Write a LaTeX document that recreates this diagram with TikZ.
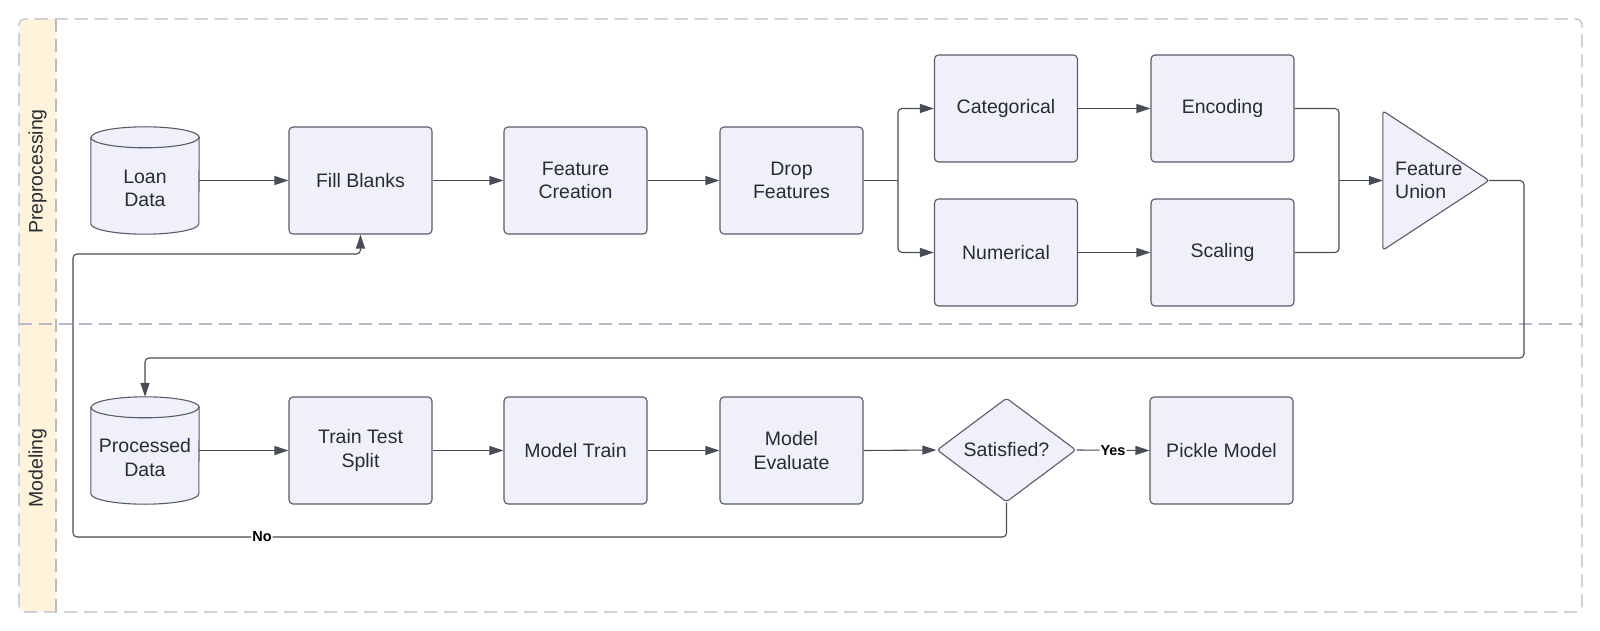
\documentclass[tikz,border=0pt]{standalone}
\usepackage{fontspec}
\setmainfont{Liberation Sans}
\usetikzlibrary{arrows.meta,shapes.geometric,calc}
\definecolor{boxfill}{RGB}{240,240,253}
\definecolor{boxline}{RGB}{88,92,104}
\definecolor{txt}{RGB}{40,44,52}
\definecolor{lanefill}{RGB}{255,243,219}
\definecolor{dashc}{RGB}{182,186,198}
\definecolor{connc}{RGB}{72,76,86}
\tikzset{
  proc/.style={draw=boxline, fill=boxfill, line width=1.1pt, rounded corners=4pt,
    minimum width=143pt, minimum height=107pt, align=center, inner sep=0pt},
  shapebox/.style={draw=none, inner sep=0pt, minimum width=108pt, minimum height=107pt},
  shapeline/.style={draw=boxline, fill=boxfill, line width=1.1pt},
  txtnode/.style={align=center, inner sep=0pt},
  conn/.style={draw=connc, line width=1.1pt, rounded corners=4pt},
  arr/.style={conn, -{Triangle[length=14pt,width=9pt]}},
  lbl/.style={fill=white, inner sep=1pt, font=\fontsize{14.5}{16}\selectfont\bfseries, text=black},
  lanedash/.style={draw=dashc, line width=1.1pt, dash pattern=on 13pt off 7pt},
  lanelbl/.style={rotate=90, inner sep=0pt}
}
\newcommand{\mycyl}[1]{%
  \draw[shapeline] ($(#1.north west)+(0,-10.5)$) -- ($(#1.south west)+(0,10.5)$)
    arc[start angle=180,end angle=360,x radius=54,y radius=10.5]
    -- ($(#1.north east)+(0,-10.5)$)
    arc[start angle=0,end angle=180,x radius=54,y radius=10.5] -- cycle;
  \draw[draw=boxline, line width=1.1pt] ($(#1.north west)+(0,-10.5)$)
    arc[start angle=180,end angle=360,x radius=54,y radius=10.5];}
\begin{document}
\begin{tikzpicture}[x=1pt,y=1pt, font=\fontsize{19.5}{23.5}\selectfont, text=txt]
\useasboundingbox (0,0) rectangle (1600,630);
% swimlanes
\begin{scope}
  \clip[rounded corners=6pt] (19,18) rectangle (1582,611);
  \fill[lanefill] (19,18) rectangle (56,611);
\end{scope}
\draw[lanedash, rounded corners=6pt] (19,18) rectangle (1582,611);
\draw[lanedash] (56,18) -- (56,611);
\draw[lanedash] (19,306) -- (1582,306);
\node[lanelbl] (lane1) at (37.5,458.5) {Preprocessing};
\node[lanelbl] (lane2) at (37.5,162) {Modeling};

% row 1
\node[shapebox] (ld) at (145,449.5) {};
\mycyl{ld}
\node[txtnode] (ldt) at (145,441.5) {Loan\\Data};
\node[proc] (fb) at (360.5,449.5) {Fill Blanks};
\node[proc] (fc) at (575.5,449.5) {Feature\\Creation};
\node[proc] (df) at (791.5,449.5) {Drop\\Features};
\node[proc] (cat) at (1006,521.5) {Categorical};
\node[proc] (num) at (1006,377.5) {Numerical};
\node[proc] (enc) at (1222.5,521.5) {Encoding};
\node[proc] (sca) at (1222.5,377.5) {Scaling};
\node[draw=none, inner sep=0pt, minimum width=106pt, minimum height=139pt] (fu) at (1436,449.5) {};
\draw[shapeline, rounded corners=3pt] (fu.north west) -- (fu.east) -- (fu.south west) -- cycle;
\node[txtnode, anchor=west, align=left] (fut) at (1395,449.5) {Feature\\Union};

% row 2
\node[shapebox] (pd) at (145,179.5) {};
\mycyl{pd}
\node[txtnode] (pdt) at (145,172.5) {Processed\\Data};
\node[proc] (tts) at (360.5,179.5) {Train Test\\Split};
\node[proc] (mt) at (575.5,179.5) {Model Train};
\node[proc] (me) at (791.5,179.5) {Model\\Evaluate};
\node[diamond, draw=boxline, fill=boxfill, line width=1.1pt, rounded corners=3pt,
  minimum width=139pt, minimum height=104pt, inner sep=0pt, aspect=1.34] (sat) at (1006.5,180) {Satisfied?};
\node[proc] (pm) at (1221.5,179.5) {Pickle Model};

% connectors
\coordinate (split) at (898,449.5);
\coordinate (merge) at (1339,449.5);
\coordinate (back) at (1524,272);
\coordinate (loopL) at (73,93);
\coordinate (loopT) at (73,376);

\draw[arr] (ld.east) -- (fb.west);
\draw[arr] (fb) -- (fc);
\draw[arr] (fc) -- (df);
\draw[conn] (df.east) -- (split);
\draw[arr] (split) |- (cat.west);
\draw[arr] (split) |- (num.west);
\draw[arr] (cat) -- (enc);
\draw[arr] (num) -- (sca);
\draw[conn] (enc.east) -| (merge);
\draw[conn] (sca.east) -| (merge);
\draw[arr] (merge) -- (fu.west);
\draw[arr] (fu.east) -| (back) -| (pd.north);

\draw[arr] (pd.east) -- (tts.west);
\draw[arr] (tts) -- (mt);
\draw[arr] (mt) -- (me);
\draw[arr] (me.east) -- (sat.west);
\draw[arr] (sat.east) -- node[lbl] {Yes} (pm.west);
\draw[arr] (sat.south) -- (sat.south |- loopL) -- node[lbl, pos=0.7975] {No} (loopL) -- (loopT) -| (fb.south);
\end{tikzpicture}
\end{document}
